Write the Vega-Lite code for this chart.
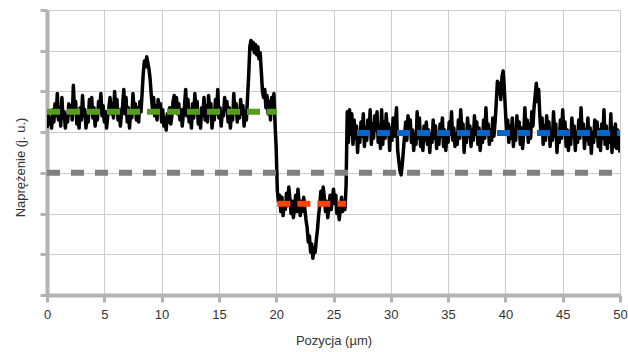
{
"$schema": "https://vega.github.io/schema/vega-lite/v6.json",
"width": 573, "height": 285,
"autosize": {"type": "none"},
"padding": {"left": 47, "top": 10, "right": 8, "bottom": 57},
"background": "white",
"config": {"view": {"stroke": null}, "font": "Liberation Sans"},
"datasets": {
"signal": [
{"x":0.0,"y":1.10},{"x":0.1,"y":1.45},{"x":0.2,"y":1.20},{"x":0.3,"y":1.35},{"x":0.4,"y":1.10},{"x":0.5,"y":1.55},{"x":0.6,"y":1.25},{"x":0.7,"y":1.70},{"x":0.8,"y":1.40},{"x":0.9,"y":1.95},
{"x":1.0,"y":1.30},{"x":1.1,"y":1.60},{"x":1.2,"y":1.15},{"x":1.3,"y":1.85},{"x":1.4,"y":1.35},{"x":1.5,"y":1.50},{"x":1.6,"y":1.10},{"x":1.7,"y":1.40},{"x":1.8,"y":1.25},{"x":1.9,"y":1.70},
{"x":2.0,"y":1.45},{"x":2.1,"y":1.65},{"x":2.2,"y":1.30},{"x":2.3,"y":2.15},{"x":2.4,"y":1.55},{"x":2.5,"y":1.75},{"x":2.6,"y":1.20},{"x":2.7,"y":1.45},{"x":2.8,"y":1.10},{"x":2.9,"y":1.60},
{"x":3.0,"y":1.30},{"x":3.1,"y":1.90},{"x":3.2,"y":1.40},{"x":3.3,"y":1.55},{"x":3.4,"y":1.10},{"x":3.5,"y":1.35},{"x":3.6,"y":1.25},{"x":3.7,"y":1.80},{"x":3.8,"y":1.50},{"x":3.9,"y":1.85},
{"x":4.0,"y":1.35},{"x":4.1,"y":1.60},{"x":4.2,"y":1.15},{"x":4.3,"y":1.45},{"x":4.4,"y":1.30},{"x":4.5,"y":1.75},{"x":4.6,"y":1.55},{"x":4.7,"y":1.95},{"x":4.8,"y":1.40},{"x":4.9,"y":1.65},
{"x":5.0,"y":1.25},{"x":5.1,"y":1.50},{"x":5.2,"y":1.10},{"x":5.3,"y":1.40},{"x":5.4,"y":1.60},{"x":5.5,"y":1.85},{"x":5.6,"y":1.45},{"x":5.7,"y":1.70},{"x":5.8,"y":1.35},{"x":5.9,"y":2.00},
{"x":6.0,"y":1.50},{"x":6.1,"y":1.80},{"x":6.2,"y":1.30},{"x":6.3,"y":1.55},{"x":6.4,"y":1.15},{"x":6.5,"y":1.45},{"x":6.6,"y":1.65},{"x":6.7,"y":2.05},{"x":6.8,"y":1.45},{"x":6.9,"y":1.85},
{"x":7.0,"y":1.25},{"x":7.1,"y":1.60},{"x":7.2,"y":1.10},{"x":7.3,"y":1.50},{"x":7.4,"y":1.35},{"x":7.5,"y":1.95},{"x":7.6,"y":1.55},{"x":7.7,"y":1.70},{"x":7.8,"y":1.30},{"x":7.9,"y":1.60},
{"x":8.0,"y":1.25},{"x":8.1,"y":1.75},{"x":8.2,"y":1.50},{"x":8.3,"y":1.95},{"x":8.4,"y":2.45},{"x":8.5,"y":2.75},{"x":8.6,"y":2.60},{"x":8.7,"y":2.85},{"x":8.8,"y":2.70},{"x":8.9,"y":2.55},
{"x":9.0,"y":2.30},{"x":9.1,"y":1.90},{"x":9.2,"y":1.60},{"x":9.3,"y":1.85},{"x":9.4,"y":1.40},{"x":9.5,"y":1.65},{"x":9.6,"y":1.30},{"x":9.7,"y":1.80},{"x":9.8,"y":1.50},{"x":9.9,"y":1.70},
{"x":10.0,"y":1.25},{"x":10.1,"y":1.55},{"x":10.2,"y":1.15},{"x":10.3,"y":1.35},{"x":10.4,"y":1.05},{"x":10.5,"y":1.45},{"x":10.6,"y":1.25},{"x":10.7,"y":1.60},{"x":10.8,"y":1.20},{"x":10.9,"y":1.40},
{"x":11.0,"y":1.75},{"x":11.1,"y":1.90},{"x":11.2,"y":1.50},{"x":11.3,"y":1.85},{"x":11.4,"y":1.45},{"x":11.5,"y":1.70},{"x":11.6,"y":1.30},{"x":11.7,"y":1.55},{"x":11.8,"y":1.15},{"x":11.9,"y":1.45},
{"x":12.0,"y":1.65},{"x":12.1,"y":2.05},{"x":12.2,"y":1.40},{"x":12.3,"y":1.80},{"x":12.4,"y":1.25},{"x":12.5,"y":1.55},{"x":12.6,"y":1.10},{"x":12.7,"y":1.70},{"x":12.8,"y":1.35},{"x":12.9,"y":1.95},
{"x":13.0,"y":1.50},{"x":13.1,"y":1.75},{"x":13.2,"y":1.20},{"x":13.3,"y":1.45},{"x":13.4,"y":1.10},{"x":13.5,"y":1.60},{"x":13.6,"y":1.40},{"x":13.7,"y":1.85},{"x":13.8,"y":1.30},{"x":13.9,"y":1.65},
{"x":14.0,"y":1.25},{"x":14.1,"y":1.90},{"x":14.2,"y":1.55},{"x":14.3,"y":1.70},{"x":14.4,"y":1.10},{"x":14.5,"y":1.40},{"x":14.6,"y":1.30},{"x":14.7,"y":1.80},{"x":14.8,"y":1.45},{"x":14.9,"y":2.05},
{"x":15.0,"y":1.35},{"x":15.1,"y":1.60},{"x":15.2,"y":1.15},{"x":15.3,"y":1.50},{"x":15.4,"y":1.40},{"x":15.5,"y":1.85},{"x":15.6,"y":1.55},{"x":15.7,"y":1.75},{"x":15.8,"y":1.25},{"x":15.9,"y":1.60},
{"x":16.0,"y":1.10},{"x":16.1,"y":1.45},{"x":16.2,"y":1.30},{"x":16.3,"y":1.95},{"x":16.4,"y":1.50},{"x":16.5,"y":1.70},{"x":16.6,"y":1.25},{"x":16.7,"y":1.55},{"x":16.8,"y":1.35},{"x":16.9,"y":1.80},
{"x":17.0,"y":1.45},{"x":17.1,"y":1.65},{"x":17.2,"y":1.15},{"x":17.3,"y":1.50},{"x":17.4,"y":1.30},{"x":17.5,"y":1.85},{"x":17.6,"y":2.40},{"x":17.7,"y":3.10},{"x":17.8,"y":3.25},{"x":17.9,"y":3.05},
{"x":18.0,"y":3.20},{"x":18.1,"y":2.95},{"x":18.2,"y":3.15},{"x":18.3,"y":2.90},{"x":18.4,"y":3.10},{"x":18.5,"y":2.80},{"x":18.6,"y":2.95},{"x":18.7,"y":2.50},{"x":18.8,"y":2.00},{"x":18.9,"y":1.85},
{"x":19.0,"y":2.05},{"x":19.1,"y":1.60},{"x":19.2,"y":1.90},{"x":19.3,"y":1.45},{"x":19.4,"y":1.75},{"x":19.5,"y":1.30},{"x":19.6,"y":1.85},{"x":19.7,"y":1.50},{"x":19.8,"y":1.95},{"x":19.9,"y":1.20},
{"x":20.0,"y":0.60},{"x":20.1,"y":-0.45},{"x":20.2,"y":-0.70},{"x":20.3,"y":-0.55},{"x":20.4,"y":-0.95},{"x":20.5,"y":-0.60},{"x":20.6,"y":-1.05},{"x":20.7,"y":-0.75},{"x":20.8,"y":-0.90},{"x":20.9,"y":-0.50},
{"x":21.0,"y":-0.80},{"x":21.1,"y":-0.35},{"x":21.2,"y":-0.65},{"x":21.3,"y":-1.00},{"x":21.4,"y":-0.70},{"x":21.5,"y":-1.10},{"x":21.6,"y":-0.85},{"x":21.7,"y":-0.55},{"x":21.8,"y":-0.95},{"x":21.9,"y":-0.40},
{"x":22.0,"y":-0.75},{"x":22.1,"y":-1.05},{"x":22.2,"y":-0.70},{"x":22.3,"y":-0.95},{"x":22.4,"y":-0.60},{"x":22.5,"y":-0.90},{"x":22.6,"y":-1.15},{"x":22.7,"y":-1.35},{"x":22.8,"y":-1.70},{"x":22.9,"y":-1.55},
{"x":23.0,"y":-1.95},{"x":23.1,"y":-1.75},{"x":23.2,"y":-2.10},{"x":23.3,"y":-1.85},{"x":23.4,"y":-1.95},{"x":23.5,"y":-1.65},{"x":23.6,"y":-1.40},{"x":23.7,"y":-1.05},{"x":23.8,"y":-0.80},{"x":23.9,"y":-0.45},
{"x":24.0,"y":-0.70},{"x":24.1,"y":-0.35},{"x":24.2,"y":-0.60},{"x":24.3,"y":-0.95},{"x":24.4,"y":-0.70},{"x":24.5,"y":-1.10},{"x":24.6,"y":-0.85},{"x":24.7,"y":-0.55},{"x":24.8,"y":-0.90},{"x":24.9,"y":-0.65},
{"x":25.0,"y":-0.40},{"x":25.1,"y":-0.75},{"x":25.2,"y":-0.55},{"x":25.3,"y":-1.00},{"x":25.4,"y":-0.80},{"x":25.5,"y":-1.15},{"x":25.6,"y":-0.85},{"x":25.7,"y":-0.60},{"x":25.8,"y":-0.95},{"x":25.9,"y":-0.70},
{"x":26.0,"y":-0.90},{"x":26.1,"y":-0.30},{"x":26.2,"y":1.50},{"x":26.3,"y":0.75},{"x":26.4,"y":1.55},{"x":26.5,"y":0.95},{"x":26.6,"y":1.45},{"x":26.7,"y":0.70},{"x":26.8,"y":1.30},{"x":26.9,"y":0.85},
{"x":27.0,"y":1.15},{"x":27.1,"y":0.50},{"x":27.2,"y":1.00},{"x":27.3,"y":0.75},{"x":27.4,"y":1.25},{"x":27.5,"y":0.90},{"x":27.6,"y":1.45},{"x":27.7,"y":0.65},{"x":27.8,"y":1.10},{"x":27.9,"y":0.80},
{"x":28.0,"y":1.30},{"x":28.1,"y":0.95},{"x":28.2,"y":1.55},{"x":28.3,"y":0.70},{"x":28.4,"y":1.20},{"x":28.5,"y":0.85},{"x":28.6,"y":1.40},{"x":28.7,"y":1.05},{"x":28.8,"y":1.50},{"x":28.9,"y":0.75},
{"x":29.0,"y":1.15},{"x":29.1,"y":0.60},{"x":29.2,"y":1.55},{"x":29.3,"y":0.70},{"x":29.4,"y":1.25},{"x":29.5,"y":0.85},{"x":29.6,"y":1.45},{"x":29.7,"y":1.00},{"x":29.8,"y":1.20},{"x":29.9,"y":0.55},
{"x":30.0,"y":1.10},{"x":30.1,"y":0.80},{"x":30.2,"y":1.35},{"x":30.3,"y":0.90},{"x":30.4,"y":1.20},{"x":30.5,"y":1.60},{"x":30.6,"y":0.55},{"x":30.7,"y":0.30},{"x":30.8,"y":0.05},{"x":30.9,"y":-0.05},
{"x":31.0,"y":0.20},{"x":31.1,"y":0.55},{"x":31.2,"y":0.90},{"x":31.3,"y":1.25},{"x":31.4,"y":0.80},{"x":31.5,"y":1.40},{"x":31.6,"y":1.10},{"x":31.7,"y":1.30},{"x":31.8,"y":0.75},{"x":31.9,"y":1.05},
{"x":32.0,"y":0.55},{"x":32.1,"y":0.95},{"x":32.2,"y":0.70},{"x":32.3,"y":1.50},{"x":32.4,"y":0.85},{"x":32.5,"y":1.35},{"x":32.6,"y":0.65},{"x":32.7,"y":1.00},{"x":32.8,"y":0.55},{"x":32.9,"y":1.15},
{"x":33.0,"y":0.80},{"x":33.1,"y":1.25},{"x":33.2,"y":0.70},{"x":33.3,"y":1.05},{"x":33.4,"y":0.50},{"x":33.5,"y":0.95},{"x":33.6,"y":0.75},{"x":33.7,"y":1.30},{"x":33.8,"y":0.85},{"x":33.9,"y":1.15},
{"x":34.0,"y":0.60},{"x":34.1,"y":1.00},{"x":34.2,"y":0.70},{"x":34.3,"y":1.20},{"x":34.4,"y":0.90},{"x":34.5,"y":1.35},{"x":34.6,"y":0.65},{"x":34.7,"y":1.05},{"x":34.8,"y":0.55},{"x":34.9,"y":0.90},
{"x":35.0,"y":0.75},{"x":35.1,"y":1.25},{"x":35.2,"y":0.95},{"x":35.3,"y":1.50},{"x":35.4,"y":0.80},{"x":35.5,"y":1.10},{"x":35.6,"y":0.65},{"x":35.7,"y":0.95},{"x":35.8,"y":0.70},{"x":35.9,"y":1.30},
{"x":36.0,"y":0.85},{"x":36.1,"y":1.55},{"x":36.2,"y":1.05},{"x":36.3,"y":1.20},{"x":36.4,"y":0.50},{"x":36.5,"y":1.00},{"x":36.6,"y":0.75},{"x":36.7,"y":1.35},{"x":36.8,"y":0.90},{"x":36.9,"y":1.15},
{"x":37.0,"y":0.65},{"x":37.1,"y":1.05},{"x":37.2,"y":0.80},{"x":37.3,"y":1.40},{"x":37.4,"y":0.95},{"x":37.5,"y":1.25},{"x":37.6,"y":0.70},{"x":37.7,"y":1.10},{"x":37.8,"y":0.55},{"x":37.9,"y":0.95},
{"x":38.0,"y":0.75},{"x":38.1,"y":1.30},{"x":38.2,"y":0.85},{"x":38.3,"y":1.60},{"x":38.4,"y":1.00},{"x":38.5,"y":1.20},{"x":38.6,"y":0.70},{"x":38.7,"y":1.05},{"x":38.8,"y":0.80},{"x":38.9,"y":1.35},
{"x":39.0,"y":0.90},{"x":39.1,"y":1.25},{"x":39.2,"y":1.70},{"x":39.3,"y":2.25},{"x":39.4,"y":1.95},{"x":39.5,"y":2.20},{"x":39.6,"y":1.80},{"x":39.7,"y":2.35},{"x":39.8,"y":2.50},{"x":39.9,"y":2.10},
{"x":40.0,"y":1.55},{"x":40.1,"y":1.00},{"x":40.2,"y":1.30},{"x":40.3,"y":0.75},{"x":40.4,"y":1.15},{"x":40.5,"y":0.85},{"x":40.6,"y":1.35},{"x":40.7,"y":0.65},{"x":40.8,"y":1.05},{"x":40.9,"y":0.80},
{"x":41.0,"y":1.40},{"x":41.1,"y":0.95},{"x":41.2,"y":1.25},{"x":41.3,"y":0.70},{"x":41.4,"y":1.10},{"x":41.5,"y":0.60},{"x":41.6,"y":0.95},{"x":41.7,"y":1.60},{"x":41.8,"y":1.00},{"x":41.9,"y":1.30},
{"x":42.0,"y":0.75},{"x":42.1,"y":1.20},{"x":42.2,"y":0.85},{"x":42.3,"y":1.50},{"x":42.4,"y":1.15},{"x":42.5,"y":1.60},{"x":42.6,"y":1.90},{"x":42.7,"y":2.20},{"x":42.8,"y":1.75},{"x":42.9,"y":2.05},
{"x":43.0,"y":1.45},{"x":43.1,"y":0.95},{"x":43.2,"y":1.35},{"x":43.3,"y":0.70},{"x":43.4,"y":1.15},{"x":43.5,"y":0.80},{"x":43.6,"y":1.40},{"x":43.7,"y":1.00},{"x":43.8,"y":1.25},{"x":43.9,"y":0.65},
{"x":44.0,"y":1.05},{"x":44.1,"y":0.80},{"x":44.2,"y":1.50},{"x":44.3,"y":0.90},{"x":44.4,"y":1.20},{"x":44.5,"y":0.50},{"x":44.6,"y":0.95},{"x":44.7,"y":0.75},{"x":44.8,"y":1.30},{"x":44.9,"y":0.85},
{"x":45.0,"y":1.55},{"x":45.1,"y":1.00},{"x":45.2,"y":1.25},{"x":45.3,"y":0.65},{"x":45.4,"y":1.05},{"x":45.5,"y":0.55},{"x":45.6,"y":0.95},{"x":45.7,"y":0.70},{"x":45.8,"y":1.35},{"x":45.9,"y":0.90},
{"x":46.0,"y":1.15},{"x":46.1,"y":0.55},{"x":46.2,"y":1.00},{"x":46.3,"y":0.75},{"x":46.4,"y":1.30},{"x":46.5,"y":0.85},{"x":46.6,"y":1.60},{"x":46.7,"y":0.95},{"x":46.8,"y":1.20},{"x":46.9,"y":0.60},
{"x":47.0,"y":1.05},{"x":47.1,"y":0.80},{"x":47.2,"y":1.35},{"x":47.3,"y":0.70},{"x":47.4,"y":1.10},{"x":47.5,"y":0.48},{"x":47.6,"y":1.00},{"x":47.7,"y":0.75},{"x":47.8,"y":1.30},{"x":47.9,"y":0.90},
{"x":48.0,"y":1.25},{"x":48.1,"y":0.65},{"x":48.2,"y":1.05},{"x":48.3,"y":0.55},{"x":48.4,"y":1.20},{"x":48.5,"y":0.85},{"x":48.6,"y":1.55},{"x":48.7,"y":0.70},{"x":48.8,"y":1.15},{"x":48.9,"y":0.60},
{"x":49.0,"y":1.00},{"x":49.1,"y":0.75},{"x":49.2,"y":1.45},{"x":49.3,"y":0.50},{"x":49.4,"y":1.10},{"x":49.5,"y":0.65},{"x":49.6,"y":1.20},{"x":49.7,"y":0.60},{"x":49.8,"y":1.05},{"x":49.9,"y":0.75},
{"x":50.0,"y":0.50}
],
"means": [
{"kind":"baseline","x1":0,"x2":50,"y":0},
{"kind":"green","x1":0,"x2":20.05,"y":1.5},
{"kind":"red","x1":20.1,"x2":26.1,"y":-0.76},
{"kind":"blue","x1":27.05,"x2":50,"y":0.98}
]
},
"layer": [
{
"data": {"name": "signal"},
"mark": {"type": "line", "color": "black", "strokeWidth": 3.5, "strokeJoin": "round", "clip": true},
"encoding": {
"x": {"field": "x", "type": "quantitative", "title": "Pozycja (µm)",
"scale": {"domain": [0, 50], "nice": false, "zero": false},
"axis": {
"values": [0,2.5,5,7.5,10,12.5,15,17.5,20,22.5,25,27.5,30,32.5,35,37.5,40,42.5,45,47.5,50],
"labelExpr": "datum.value % 5 === 0 ? datum.label : ''",
"grid": true, "gridColor": "#cccccc", "gridWidth": 1,
"domainColor": "#b3b3b3", "domainWidth": 4,
"tickColor": "#b3b3b3", "tickWidth": 3, "tickSize": 7,
"tickOpacity": {"condition": {"test": "datum.value % 5 === 0", "value": 1}, "value": 0},
"labelFontSize": 13, "labelColor": "#333333", "labelPadding": 6,
"labelFlush": false, "labelOverlap": false, "labelFont": "Liberation Sans",
"titleFontSize": 13, "titleFontWeight": "normal", "titleColor": "#333333", "titlePadding": 13, "titleFont": "Liberation Sans"
}},
"y": {"field": "y", "type": "quantitative", "title": "Naprężenie (j. u.)",
"scale": {"domain": [-3, 4], "nice": false, "zero": false},
"axis": {
"values": [-3,-2.5,-2,-1.5,-1,-0.5,0,0.5,1,1.5,2,2.5,3,3.5,4],
"labels": false,
"grid": true, "gridColor": "#cccccc", "gridWidth": 1,
"domainColor": "#b3b3b3", "domainWidth": 4,
"tickColor": "#b3b3b3", "tickWidth": 3, "tickSize": 7,
"tickOpacity": {"condition": {"test": "datum.value % 1 === 0", "value": 1}, "value": 0},
"titleFontSize": 13, "titleFontWeight": "normal", "titleColor": "#333333", "titlePadding": 11, "titleY": 157, "titleFont": "Liberation Sans"
}}
}
},
{
"data": {"name": "means"},
"transform": [{"filter": "datum.kind === 'baseline'"}],
"mark": {"type": "rule", "color": "#808080", "strokeWidth": 6, "strokeDash": [13, 11]},
"encoding": {
"x": {"field": "x1", "type": "quantitative", "title": "Pozycja (µm)"},
"x2": {"field": "x2"},
"y": {"field": "y", "type": "quantitative", "title": "Naprężenie (j. u.)"}
}
},
{
"data": {"name": "means"},
"transform": [{"filter": "datum.kind !== 'baseline'"}],
"mark": {"type": "rule", "strokeWidth": 6, "strokeDash": [13, 7]},
"encoding": {
"x": {"field": "x1", "type": "quantitative", "title": "Pozycja (µm)"},
"x2": {"field": "x2"},
"y": {"field": "y", "type": "quantitative", "title": "Naprężenie (j. u.)"},
"color": {"field": "kind", "type": "nominal", "legend": null,
"scale": {"domain": ["green", "red", "blue"], "range": ["#579d1c", "#ff420e", "#0066cc"]}}
}
}
]
}
